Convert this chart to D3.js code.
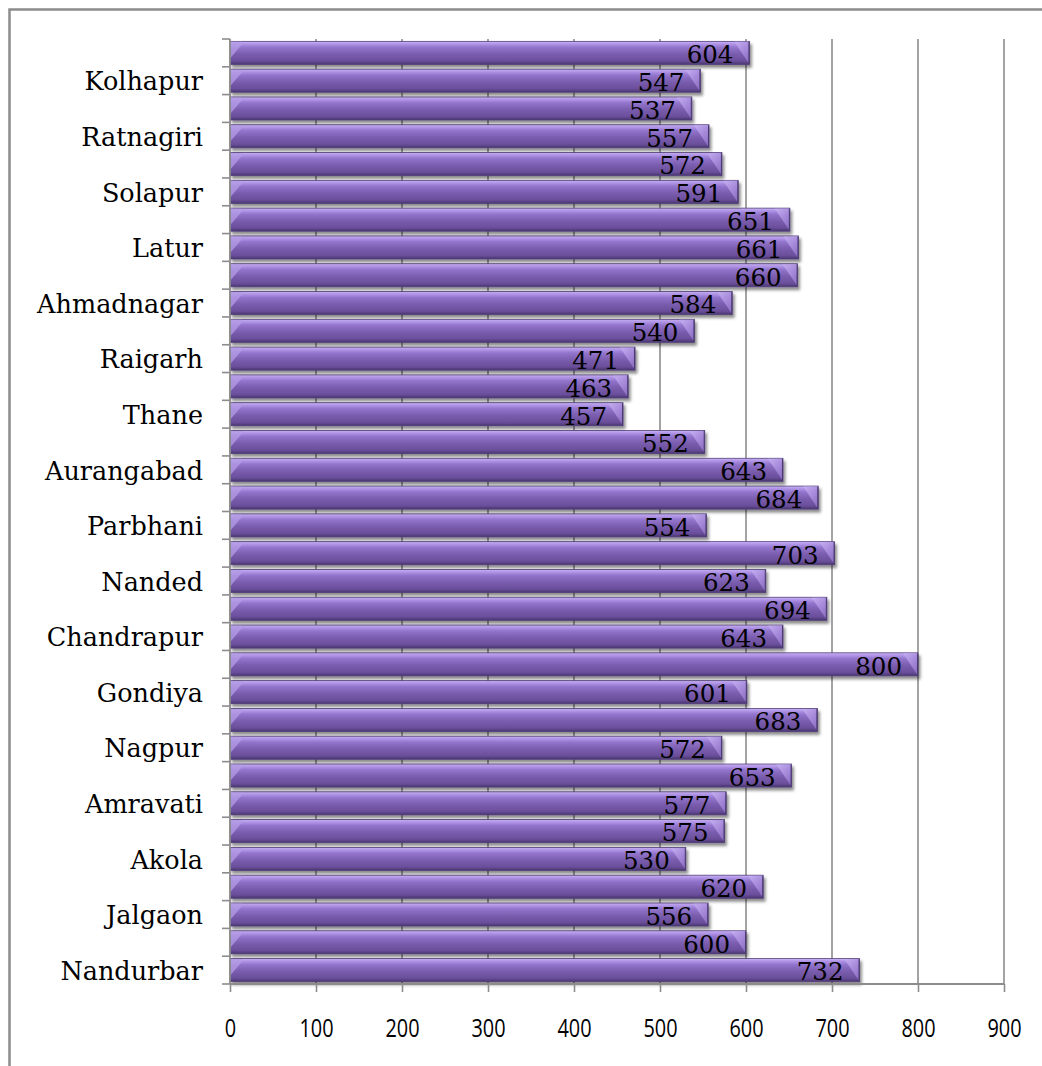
<!DOCTYPE html>
<html>
<head>
<meta charset="utf-8">
<script src="https://cdn.jsdelivr.net/npm/d3@7"></script>
<style>
  body { margin: 0; background: #fff; }
  svg { display: block; }
</style>
</head>
<body>
<svg id="chart" width="1042" height="1066"></svg>
<script>
// Districts of Maharashtra, listed bottom to top
const districts = [
  "Nandurbar", "Dhule", "Jalgaon", "Buldana", "Akola", "Washim", "Amravati",
  "Wardha", "Nagpur", "Bhandara", "Gondiya", "Gadchiroli", "Chandrapur",
  "Yavatmal", "Nanded", "Hingoli", "Parbhani", "Jalna", "Aurangabad", "Nashik",
  "Thane", "Mumbai", "Raigarh", "Pune", "Ahmadnagar", "Bid", "Latur",
  "Osmanabad", "Solapur", "Satara", "Ratnagiri", "Sindhudurg", "Kolhapur", "Sangli"
];
const values = [
  732, 600, 556, 620, 530, 575, 577,
  653, 572, 683, 601, 800, 643,
  694, 623, 703, 554, 684, 643, 552,
  457, 463, 471, 540, 584, 660, 661,
  651, 591, 572, 557, 537, 547, 604
];
// Category names printed on the vertical axis
const axisLabels = [
  "Nandurbar", "Jalgaon", "Akola", "Amravati", "Nagpur", "Gondiya", "Chandrapur",
  "Nanded", "Parbhani", "Aurangabad", "Thane", "Raigarh", "Ahmadnagar", "Latur",
  "Solapur", "Ratnagiri", "Kolhapur"
];
const xTicks = [0, 100, 200, 300, 400, 500, 600, 700, 800, 900];

(function draw() {
  const svg = d3.select("#chart");
  const W = 1042, H = 1066;
  const plotLeft = 230, plotRight = 1004, plotTop = 39, plotBottom = 984;

  const x = d3.scaleLinear().domain([0, 900]).range([plotLeft, plotRight]);
  const y = d3.scaleBand()
    .domain(d3.range(districts.length).reverse())
    .range([plotTop, plotBottom])
    .paddingInner(0.17)
    .paddingOuter(0.085);

  // Outer chart frame
  svg.append("rect")
    .attr("x", 9.5).attr("y", 9.5)
    .attr("width", W + 20).attr("height", H + 20)
    .attr("fill", "none").attr("stroke", "#8c8c8c").attr("stroke-width", 2.5);

  const defs = svg.append("defs");
  const bodyGrad = defs.append("linearGradient").attr("id", "barBody")
    .attr("x1", 0).attr("y1", 0).attr("x2", 0).attr("y2", 1);
  [[0, "#cdb9f6"], [0.09, "#b599ea"], [0.26, "#9275cc"], [0.55, "#7a5dae"],
   [0.85, "#6a4e9b"], [1, "#48366d"]].forEach(([o, c]) =>
    bodyGrad.append("stop").attr("offset", o).attr("stop-color", c));

  const capGrad = defs.append("linearGradient").attr("id", "barCap")
    .attr("x1", 0).attr("y1", 0).attr("x2", 1).attr("y2", 1);
  [[0, "#c6b1f2"], [0.6, "#a689da"], [1, "#8a6ec0"]].forEach(([o, c]) =>
    capGrad.append("stop").attr("offset", o).attr("stop-color", c));

  const shadow = defs.append("filter").attr("id", "barShadow")
    .attr("x", "-5%").attr("y", "-30%").attr("width", "115%").attr("height", "180%");
  shadow.append("feDropShadow")
    .attr("dx", 2).attr("dy", 3).attr("stdDeviation", 1.6)
    .attr("flood-color", "#000").attr("flood-opacity", 0.45);

  // Vertical gridlines
  svg.append("g").selectAll("line")
    .data(xTicks.filter(t => t > 0))
    .join("line")
    .attr("x1", d => x(d)).attr("x2", d => x(d))
    .attr("y1", plotTop).attr("y2", plotBottom)
    .attr("stroke", "#8c8c8c").attr("stroke-width", 1.6);

  // Bars
  const h = y.bandwidth();
  const bars = svg.append("g").selectAll("g")
    .data(values.map((v, i) => ({ v, i })))
    .join("g")
    .attr("transform", d => `translate(${x(0)},${y(d.i)})`);

  bars.append("rect")
    .attr("width", d => x(d.v) - x(0))
    .attr("height", h)
    .attr("fill", "url(#barBody)")
    .attr("stroke", "#523e7c").attr("stroke-width", 0.8)
    .attr("filter", "url(#barShadow)");

  // bevelled left end
  bars.append("path")
    .attr("d", `M0.5,0.5 L12,0.5 L12,3 L0.5,${h * 0.72} Z`)
    .attr("fill", "#b59de6").attr("opacity", 0.75);

  // bevelled right end
  bars.append("path")
    .attr("d", d => {
      const w = x(d.v) - x(0);
      return `M${w - 15},0.5 L${w - 0.5},0.5 L${w - 0.5},${h - 1} Z`;
    })
    .attr("fill", "url(#barCap)").attr("opacity", 0.9);

  bars.append("path")
    .attr("d", d => {
      const w = x(d.v) - x(0);
      return `M${w - 0.5},0.5 L${w - 0.5},${h - 0.5}`;
    })
    .attr("stroke", "#4a386f").attr("stroke-width", 1);

  // Value labels
  bars.append("text")
    .attr("x", d => x(d.v) - x(0) - 16)
    .attr("y", h / 2 + 1.5)
    .attr("dy", "0.36em")
    .attr("text-anchor", "end")
    .attr("font-family", "'DejaVu Serif', serif")
    .attr("font-size", 24.5)
    .attr("fill", "#000")
    .text(d => d.v);

  // Vertical axis: line, boundary ticks and category labels
  svg.append("line")
    .attr("x1", plotLeft).attr("x2", plotLeft).attr("y1", plotTop).attr("y2", plotBottom)
    .attr("stroke", "#8c8c8c").attr("stroke-width", 1.8);

  const step = y.step();
  const boundaries = d3.range(districts.length + 1).map(k => plotTop + k * step);
  svg.append("g").selectAll("line")
    .data(boundaries)
    .join("line")
    .attr("x1", plotLeft - 8).attr("x2", plotLeft)
    .attr("y1", d => d).attr("y2", d => d)
    .attr("stroke", "#8c8c8c").attr("stroke-width", 1.6);

  const yAxis = d3.axisLeft(y)
    .tickValues(axisLabels.map(n => districts.indexOf(n)))
    .tickFormat(i => districts[i])
    .tickSize(0)
    .tickPadding(27);
  const gy = svg.append("g").attr("transform", `translate(${plotLeft},0)`).call(yAxis);
  gy.select(".domain").remove();
  gy.selectAll("text")
    .attr("font-family", "'DejaVu Serif', serif")
    .attr("font-size", 25.5)
    .attr("fill", "#000")
    .attr("dy", "0.38em");

  // Horizontal axis
  const xAxis = d3.axisBottom(x).tickValues(xTicks).tickSize(8).tickPadding(27);
  const gx = svg.append("g").attr("transform", `translate(0,${plotBottom})`).call(xAxis);
  gx.select(".domain").attr("stroke", "#8c8c8c").attr("stroke-width", 1.8)
    .attr("d", `M${plotLeft},0H${plotRight}`);
  gx.selectAll(".tick line").attr("stroke", "#8c8c8c").attr("stroke-width", 1.6);
  // narrow numerals: horizontally condensed sans
  gx.selectAll(".tick text")
    .attr("font-family", "'Open Sans', sans-serif")
    .attr("font-size", 25.5)
    .attr("fill", "#000")
    .attr("transform", function () {
      const ty = +d3.select(this).attr("y");
      return `translate(0,${ty}) scale(0.78,1) translate(0,${-ty})`;
    });
})();
</script>
</body>
</html>
